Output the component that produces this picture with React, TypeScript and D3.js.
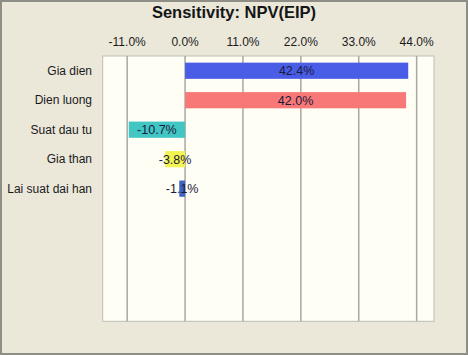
import React from "react";
import * as d3 from "d3";

const title = "Sensitivity: NPV(EIP)";
const categories = ["Gia dien", "Dien luong", "Suat dau tu", "Gia than", "Lai suat dai han"];
const values = [42.4, 42.0, -10.7, -3.8, -1.1];
const barColors = ["#4a5de6", "#f87878", "#42c6c4", "#f4f452", "#3c62c4"];
const tickValues = [-11, 0, 11, 22, 33, 44];
const totalSlots = 9;

const W = 468, H = 355;
const plot = { left: 102.7, right: 434, top: 56, bottom: 321.3 };

export default function App() {
  const x = d3.scaleLinear().domain([-15.65, 47.3]).range([plot.left, plot.right]);
  const y = d3
    .scaleBand<number>()
    .domain(d3.range(totalSlots))
    .range([plot.top, plot.bottom])
    .paddingInner(0.45)
    .paddingOuter(0.225);
  const fmt = (v: number) => v.toFixed(1) + "%";
  const font = "'Liberation Sans', Arial, sans-serif";
  return (
    <svg width={W} height={H} style={{ position: "fixed", left: 0, top: 0 }} fontFamily={font}>
      <rect x={0} y={0} width={W} height={H} fill="#ebe8da" />
      <rect x={1} y={1} width={W - 2} height={H - 2} fill="none" stroke="#8e8e86" strokeWidth={2} />
      <text x={234} y={18} textAnchor="middle" fontSize={16.5} fontWeight="bold" fill="#151515">
        {title}
      </text>
      <rect x={plot.left} y={plot.top} width={plot.right - plot.left} height={plot.bottom - plot.top} fill="#fffef4" stroke="#bdbdb4" strokeWidth={1} />
      {tickValues.map((t) => (
        <g key={t}>
          <line x1={x(t)} x2={x(t)} y1={plot.top} y2={plot.bottom} stroke="#a9a8a0" strokeWidth={1.5} />
          <text x={x(t)} y={46} textAnchor="middle" fontSize={12} fill="#1a1a1a">
            {fmt(t)}
          </text>
        </g>
      ))}
      {categories.map((c, i) => {
        const v = values[i];
        const y0 = y(i)!;
        const bw = y.bandwidth();
        const x0 = x(Math.min(0, v));
        const x1 = x(Math.max(0, v));
        return (
          <g key={c}>
            <text x={92} y={y0 + bw / 2 + 4} textAnchor="end" fontSize={12} fill="#1a1a1a">
              {c}
            </text>
            <rect x={x0} y={y0} width={x1 - x0} height={bw} fill={barColors[i]} />
            <text x={(x0 + x1) / 2} y={y0 + bw / 2 + 4.5} textAnchor="middle" fontSize={12.5} fill="#1a1a3a">
              {fmt(v)}
            </text>
          </g>
        );
      })}
    </svg>
  );
}
